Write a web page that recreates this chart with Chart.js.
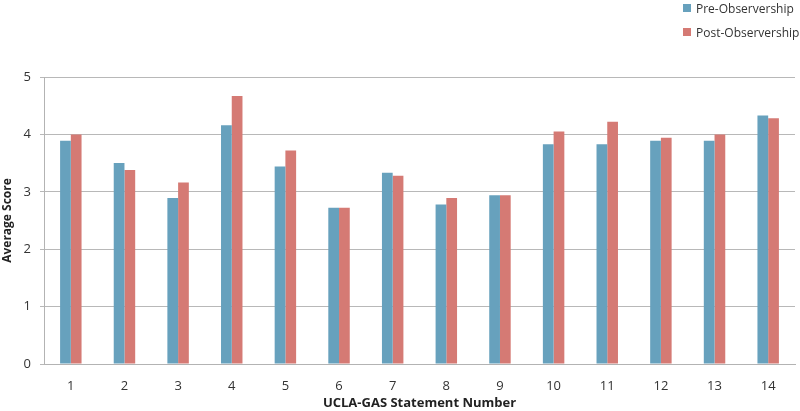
<!DOCTYPE html>
<html>
<head>
<meta charset="utf-8">
<script src="https://cdn.jsdelivr.net/npm/chart.js@4.4.0/dist/chart.umd.min.js"></script>
<style>
  html, body { margin: 0; padding: 0; background: #fff; }
  #wrap { position: relative; width: 800px; height: 411px; }
  #legend { position: absolute; left: 683px; top: 1px; font-family: "Open Sans", sans-serif; font-size: 12px; color: #333; }
  #legend div { height: 24px; line-height: 16px; white-space: nowrap; }
  #legend span.box { display: inline-block; width: 8px; height: 8px; margin-right: 5px; vertical-align: 1px; }
</style>
</head>
<body>
<div id="wrap">
  <canvas id="chart" width="800" height="411"></canvas>
  <div id="legend"></div>
</div>
<script>
const statements = ["1", "2", "3", "4", "5", "6", "7", "8", "9", "10", "11", "12", "13", "14"];
const pre_scores = [3.89, 3.5, 2.89, 4.16, 3.44, 2.72, 3.33, 2.78, 2.94, 3.83, 3.83, 3.89, 3.89, 4.33];
const post_scores = [4.0, 3.38, 3.16, 4.67, 3.72, 2.72, 3.28, 2.89, 2.94, 4.05, 4.22, 3.94, 4.0, 4.28];
const series_names = ["Pre-Observership", "Post-Observership"];
const series_colors = ["#67a1bd", "#d57a74"];

const font_family = "'Open Sans', sans-serif";

const chart = new Chart(document.getElementById("chart"), {
  type: "bar",
  data: {
    labels: statements,
    datasets: [
      {
        label: series_names[0],
        data: pre_scores,
        backgroundColor: series_colors[0],
      },
      {
        label: series_names[1],
        data: post_scores,
        backgroundColor: series_colors[1],
      },
    ],
  },
  options: {
    responsive: false,
    animation: false,
    layout: {
      padding: { top: 77, right: 5, bottom: 0, left: 0 },
    },
    datasets: {
      bar: {
        categoryPercentage: 0.4,
        barPercentage: 1.0,
      },
    },
    plugins: {
      legend: { display: false },
      tooltip: { enabled: false },
    },
    scales: {
      x: {
        grid: { display: false },
        border: { display: true, color: "#b3b3b3", width: 1 },
        ticks: {
          color: "#333",
          font: { family: font_family, size: 13 },
          padding: 6,
        },
        title: {
          display: true,
          text: "UCLA-GAS Statement Number",
          color: "#222",
          font: { family: font_family, size: 13, weight: "bold" },
          padding: { top: 0, bottom: 0 },
        },
        afterFit: (scale) => {
          scale.height = 47;
        },
      },
      y: {
        min: 0,
        max: 5,
        ticks: {
          stepSize: 1,
          color: "#333",
          font: { family: font_family, size: 13 },
          padding: 9,
        },
        grid: {
          color: "#b8b8b8",
          tickLength: 4,
        },
        border: { display: true, color: "#b3b3b3", width: 1 },
        title: {
          display: true,
          text: "Average Score",
          color: "#222",
          font: { family: font_family, size: 12, weight: "bold" },
          padding: { top: 0, bottom: 0 },
        },
        afterFit: (scale) => {
          scale.width = 44;
        },
      },
    },
  },
});

// vertical legend in the top right corner
const legend = document.getElementById("legend");
chart.data.datasets.forEach(({ label, backgroundColor }) => {
  const row = document.createElement("div");
  const box = document.createElement("span");
  box.className = "box";
  box.style.background = backgroundColor;
  row.appendChild(box);
  row.appendChild(document.createTextNode(label));
  legend.appendChild(row);
});
</script>
</body>
</html>
